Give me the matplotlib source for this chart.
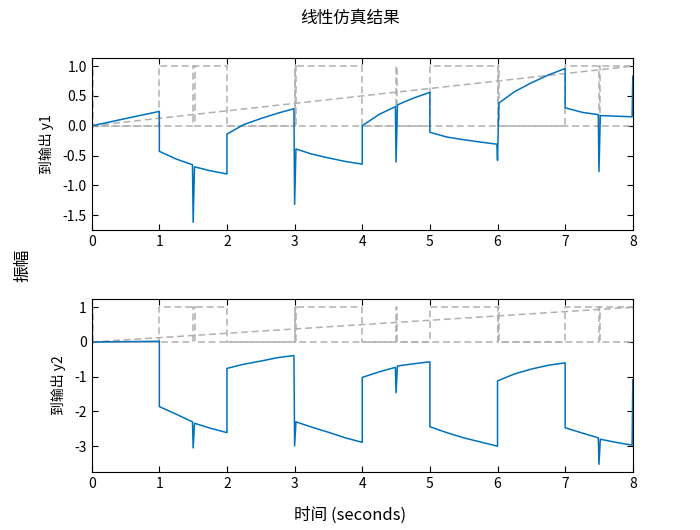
import numpy as np
import matplotlib
matplotlib.use("Agg")
import matplotlib.pyplot as plt

plt.rcParams['font.family'] = ['Noto Sans CJK SC', 'DejaVu Sans']
plt.rcParams['axes.unicode_minus'] = False

# 输入信号（灰色虚线）
square_t = [0, 1, 1, 2, 2, 3, 3, 4, 4, 5, 5, 6, 6, 7, 7, 8]
square_v = [0, 0, 1, 1, 0, 0, 1, 1, 0, 0, 1, 1, 0, 0, 1, 1]
ramp_t = [0, 8]
ramp_v = [0, 1]
pulse_times = [0, 1.5, 3, 4.5, 6, 7.5]
pulse_width = 0.02

# 输出 y1
y1_t = [0, 0.01, 0.5, 1.0,
        1.0, 1.25, 1.49, 1.5, 1.52, 1.75, 2.0,
        2.0, 2.25, 2.5, 2.75, 2.99, 3.0, 3.02, 3.25, 3.5, 3.75, 4.0,
        4.0, 4.25, 4.49, 4.5, 4.52, 4.75, 5.0,
        5.0, 5.25, 5.5, 5.75, 5.99, 6.0, 6.02, 6.25, 6.5, 6.75, 7.0,
        7.0, 7.25, 7.49, 7.5, 7.52, 7.75, 7.99, 8.0]
y1_v = [-0.5, 0.0, 0.12, 0.24,
        -0.43, -0.56, -0.655, -1.62, -0.69, -0.755, -0.81,
        -0.14, 0.02, 0.12, 0.21, 0.285, -1.32, -0.39, -0.475, -0.54, -0.60, -0.645,
        0.0, 0.19, 0.32, -0.61, 0.35, 0.46, 0.56,
        -0.11, -0.19, -0.235, -0.275, -0.31, -0.58, 0.38, 0.57, 0.72, 0.85, 0.96,
        0.30, 0.225, 0.185, -0.77, 0.17, 0.16, 0.15, 0.83]

# 输出 y2
y2_t = [0, 0.01, 0.5, 1.0,
        1.0, 1.25, 1.49, 1.5, 1.52, 1.75, 2.0,
        2.0, 2.25, 2.5, 2.75, 2.99, 3.0, 3.02, 3.25, 3.5, 3.75, 4.0,
        4.0, 4.25, 4.49, 4.5, 4.52, 4.75, 5.0,
        5.0, 5.25, 5.5, 5.75, 6.0,
        6.0, 6.25, 6.5, 6.75, 7.0,
        7.0, 7.25, 7.49, 7.5, 7.52, 7.75, 7.99, 8.0]
y2_v = [-0.45, 0.0, 0.01, 0.02,
        -1.86, -2.08, -2.30, -3.05, -2.34, -2.48, -2.61,
        -0.76, -0.64, -0.55, -0.45, -0.39, -2.99, -2.30, -2.45, -2.60, -2.76, -2.89,
        -1.02, -0.86, -0.73, -1.46, -0.69, -0.63, -0.57,
        -2.44, -2.61, -2.76, -2.88, -3.0,
        -1.12, -0.92, -0.78, -0.67, -0.60,
        -2.47, -2.62, -2.76, -3.52, -2.80, -2.89, -2.97, -1.09]

blue = '#0072BD'
gray = '#b0b0b0'

# 脉冲信号
pulse_x, pulse_y = [0.0], [0.0]
for p in pulse_times:
    pulse_x += [p, p, p + pulse_width, p + pulse_width]
    pulse_y += [0, 1, 1, 0]
pulse_x.append(8.0)
pulse_y.append(0.0)

fig = plt.figure(figsize=(7, 5.3), dpi=100)
ax1 = fig.add_axes([0.131, 0.566, 0.773, 0.325])
ax2 = fig.add_axes([0.131, 0.109, 0.773, 0.327])


def draw(ax, t, y, ylim, yticks, yticklabels, ylabel):
    for xs, ys in [(square_t, square_v), (ramp_t, ramp_v), (pulse_x, pulse_y)]:
        ax.plot(xs, ys, color=gray, lw=1.1, ls=(0, (4.5, 2.5)))
    ax.plot(t, y, color=blue, lw=1.1)
    ax.set_xlim(0, 8)
    ax.set_ylim(*ylim)
    ax.set_xticks(range(9))
    ax.set_yticks(yticks)
    ax.set_yticklabels(yticklabels)
    ax.tick_params(direction='in', top=True, right=True, labelsize=10, length=4)
    ax.set_ylabel(ylabel, fontsize=10, labelpad=6)
    for s in ax.spines.values():
        s.set_linewidth(0.8)


draw(ax1, y1_t, y1_v, (-1.75, 1.14), [1, 0.5, 0, -0.5, -1, -1.5],
     ['1.0', '0.5', '0.0', '-0.5', '-1.0', '-1.5'], '到输出 y1')
draw(ax2, y2_t, y2_v, (-3.75, 1.24), [1, 0, -1, -2, -3],
     ['1', '0', '-1', '-2', '-3'], '到输出 y2')

fig.text(0.5, 0.965, '线性仿真结果', ha='center', va='center', fontsize=12)
fig.text(0.5, 0.028, '时间 (seconds)', ha='center', va='center', fontsize=12)
fig.text(0.032, 0.5, '振幅', ha='center', va='center', rotation=90, fontsize=12)

fig.savefig('out.png')
